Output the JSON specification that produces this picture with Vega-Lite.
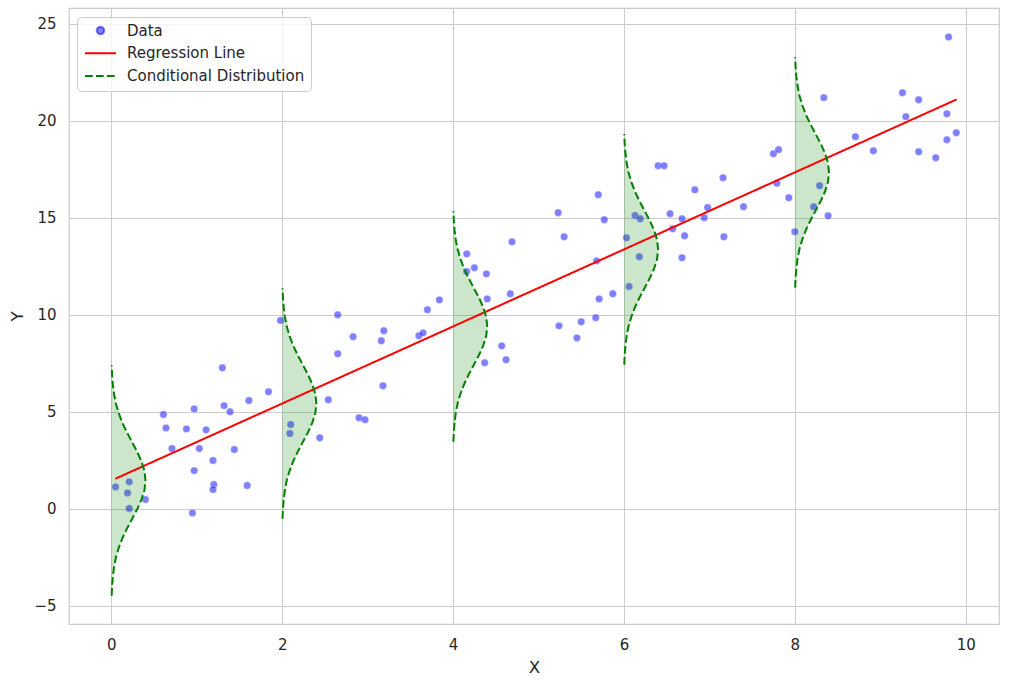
{
  "$schema": "https://vega.github.io/schema/vega-lite/v6.json",
  "width": 930,
  "height": 616,
  "autosize": {"type": "none"},
  "padding": {"left": 69, "top": 8, "right": 10, "bottom": 63},
  "background": "white",
  "config": {
    "view": {"stroke": "#cccccc", "strokeWidth": 1.25},
    "font": "DejaVu Sans",
    "axis": {
      "grid": true, "gridColor": "#cccccc", "gridWidth": 1,
      "domain": false, "ticks": false, "tickSize": 0, "format": "d",
      "labelFont": "DejaVu Sans", "labelFontSize": 15, "labelColor": "#262626",
      "titleFont": "DejaVu Sans", "titleFontSize": 16.7, "titleFontWeight": "normal", "titleColor": "#262626"
    },
    "legend": {"labelFont": "DejaVu Sans", "labelFontSize": 15, "labelColor": "#262626", "labelLimit": 400}
  },
  "datasets": {
    "points": [
      {"x": 0.05, "y": 1.13, "s": "Data"}, {"x": 0.21, "y": 1.39, "s": "Data"}, {"x": 0.19, "y": 0.82, "s": "Data"},
      {"x": 0.21, "y": 0.02, "s": "Data"}, {"x": 0.40, "y": 0.48, "s": "Data"}, {"x": 0.61, "y": 4.86, "s": "Data"},
      {"x": 0.64, "y": 4.17, "s": "Data"}, {"x": 0.71, "y": 3.11, "s": "Data"}, {"x": 0.88, "y": 4.12, "s": "Data"},
      {"x": 0.97, "y": 5.15, "s": "Data"}, {"x": 0.97, "y": 1.97, "s": "Data"}, {"x": 0.95, "y": -0.21, "s": "Data"},
      {"x": 1.03, "y": 3.11, "s": "Data"}, {"x": 1.11, "y": 4.07, "s": "Data"}, {"x": 1.19, "y": 2.49, "s": "Data"},
      {"x": 1.20, "y": 1.25, "s": "Data"}, {"x": 1.19, "y": 0.99, "s": "Data"}, {"x": 1.32, "y": 5.32, "s": "Data"},
      {"x": 1.39, "y": 5.00, "s": "Data"}, {"x": 1.30, "y": 7.27, "s": "Data"}, {"x": 1.44, "y": 3.06, "s": "Data"},
      {"x": 1.61, "y": 5.58, "s": "Data"}, {"x": 1.59, "y": 1.20, "s": "Data"}, {"x": 1.84, "y": 6.03, "s": "Data"},
      {"x": 2.10, "y": 4.35, "s": "Data"}, {"x": 2.09, "y": 3.88, "s": "Data"}, {"x": 1.98, "y": 9.71, "s": "Data"},
      {"x": 2.44, "y": 3.66, "s": "Data"}, {"x": 2.54, "y": 5.62, "s": "Data"}, {"x": 2.65, "y": 10.00, "s": "Data"},
      {"x": 2.65, "y": 7.99, "s": "Data"}, {"x": 2.83, "y": 8.87, "s": "Data"}, {"x": 2.90, "y": 4.69, "s": "Data"},
      {"x": 2.97, "y": 4.59, "s": "Data"}, {"x": 3.16, "y": 8.66, "s": "Data"}, {"x": 3.19, "y": 9.18, "s": "Data"},
      {"x": 3.18, "y": 6.34, "s": "Data"}, {"x": 3.60, "y": 8.92, "s": "Data"}, {"x": 3.65, "y": 9.07, "s": "Data"},
      {"x": 3.70, "y": 10.26, "s": "Data"}, {"x": 3.84, "y": 10.77, "s": "Data"}, {"x": 5.23, "y": 15.26, "s": "Data"},
      {"x": 5.30, "y": 14.02, "s": "Data"}, {"x": 4.69, "y": 13.76, "s": "Data"}, {"x": 4.16, "y": 13.14, "s": "Data"},
      {"x": 4.16, "y": 12.23, "s": "Data"}, {"x": 4.25, "y": 12.42, "s": "Data"}, {"x": 4.39, "y": 12.11, "s": "Data"},
      {"x": 4.40, "y": 10.82, "s": "Data"}, {"x": 4.67, "y": 11.08, "s": "Data"}, {"x": 5.24, "y": 9.43, "s": "Data"},
      {"x": 5.50, "y": 9.64, "s": "Data"}, {"x": 5.45, "y": 8.81, "s": "Data"}, {"x": 4.57, "y": 8.40, "s": "Data"},
      {"x": 4.62, "y": 7.68, "s": "Data"}, {"x": 4.37, "y": 7.53, "s": "Data"}, {"x": 5.67, "y": 9.85, "s": "Data"},
      {"x": 5.71, "y": 10.82, "s": "Data"}, {"x": 5.87, "y": 11.08, "s": "Data"}, {"x": 6.06, "y": 11.46, "s": "Data"},
      {"x": 5.68, "y": 12.78, "s": "Data"}, {"x": 6.18, "y": 12.99, "s": "Data"}, {"x": 6.03, "y": 13.97, "s": "Data"},
      {"x": 5.70, "y": 16.19, "s": "Data"}, {"x": 5.77, "y": 14.90, "s": "Data"}, {"x": 6.13, "y": 15.12, "s": "Data"},
      {"x": 6.19, "y": 14.95, "s": "Data"}, {"x": 6.40, "y": 17.68, "s": "Data"}, {"x": 6.47, "y": 17.68, "s": "Data"},
      {"x": 6.83, "y": 16.44, "s": "Data"}, {"x": 6.54, "y": 15.21, "s": "Data"}, {"x": 6.57, "y": 14.43, "s": "Data"},
      {"x": 6.68, "y": 14.95, "s": "Data"}, {"x": 6.71, "y": 14.07, "s": "Data"}, {"x": 6.68, "y": 12.94, "s": "Data"},
      {"x": 6.98, "y": 15.53, "s": "Data"}, {"x": 6.94, "y": 15.00, "s": "Data"}, {"x": 7.16, "y": 17.06, "s": "Data"},
      {"x": 7.17, "y": 14.02, "s": "Data"}, {"x": 7.40, "y": 15.57, "s": "Data"}, {"x": 7.75, "y": 18.30, "s": "Data"},
      {"x": 7.81, "y": 18.51, "s": "Data"}, {"x": 7.79, "y": 16.78, "s": "Data"}, {"x": 7.93, "y": 16.03, "s": "Data"},
      {"x": 8.00, "y": 14.28, "s": "Data"}, {"x": 8.34, "y": 21.19, "s": "Data"}, {"x": 8.29, "y": 16.65, "s": "Data"},
      {"x": 8.22, "y": 15.57, "s": "Data"}, {"x": 8.39, "y": 15.10, "s": "Data"}, {"x": 8.71, "y": 19.18, "s": "Data"},
      {"x": 8.92, "y": 18.45, "s": "Data"}, {"x": 9.26, "y": 21.44, "s": "Data"}, {"x": 9.45, "y": 21.08, "s": "Data"},
      {"x": 9.30, "y": 20.21, "s": "Data"}, {"x": 9.45, "y": 18.40, "s": "Data"}, {"x": 9.65, "y": 18.09, "s": "Data"},
      {"x": 9.78, "y": 20.36, "s": "Data"}, {"x": 9.78, "y": 19.02, "s": "Data"}, {"x": 9.89, "y": 19.38, "s": "Data"},
      {"x": 9.80, "y": 24.32, "s": "Data"}
    ],
    "reg": [
      {"x": 0.047, "y": 1.55, "s": "Regression Line"},
      {"x": 9.895, "y": 21.10, "s": "Regression Line"}
    ],
    "curves": [
      {"g": 0, "y": -4.48, "x": 0.004, "s": "Conditional Distribution"}, {"g": 0, "y": -3.99, "x": 0.009, "s": "Conditional Distribution"},
      {"g": 0, "y": -3.49, "x": 0.018, "s": "Conditional Distribution"}, {"g": 0, "y": -3.00, "x": 0.032, "s": "Conditional Distribution"},
      {"g": 0, "y": -2.50, "x": 0.054, "s": "Conditional Distribution"}, {"g": 0, "y": -2.01, "x": 0.087, "s": "Conditional Distribution"},
      {"g": 0, "y": -1.51, "x": 0.130, "s": "Conditional Distribution"}, {"g": 0, "y": -1.02, "x": 0.183, "s": "Conditional Distribution"},
      {"g": 0, "y": -0.52, "x": 0.243, "s": "Conditional Distribution"}, {"g": 0, "y": -0.03, "x": 0.302, "s": "Conditional Distribution"},
      {"g": 0, "y": 0.47, "x": 0.353, "s": "Conditional Distribution"}, {"g": 0, "y": 0.96, "x": 0.388, "s": "Conditional Distribution"},
      {"g": 0, "y": 1.46, "x": 0.400, "s": "Conditional Distribution"}, {"g": 0, "y": 1.96, "x": 0.388, "s": "Conditional Distribution"},
      {"g": 0, "y": 2.45, "x": 0.353, "s": "Conditional Distribution"}, {"g": 0, "y": 2.95, "x": 0.302, "s": "Conditional Distribution"},
      {"g": 0, "y": 3.44, "x": 0.243, "s": "Conditional Distribution"}, {"g": 0, "y": 3.94, "x": 0.183, "s": "Conditional Distribution"},
      {"g": 0, "y": 4.43, "x": 0.130, "s": "Conditional Distribution"}, {"g": 0, "y": 4.93, "x": 0.087, "s": "Conditional Distribution"},
      {"g": 0, "y": 5.42, "x": 0.054, "s": "Conditional Distribution"}, {"g": 0, "y": 5.92, "x": 0.032, "s": "Conditional Distribution"},
      {"g": 0, "y": 6.41, "x": 0.018, "s": "Conditional Distribution"}, {"g": 0, "y": 6.91, "x": 0.009, "s": "Conditional Distribution"},
      {"g": 0, "y": 7.40, "x": 0.004, "s": "Conditional Distribution"},

      {"g": 2, "y": -0.51, "x": 2.004, "s": "Conditional Distribution"}, {"g": 2, "y": -0.02, "x": 2.009, "s": "Conditional Distribution"},
      {"g": 2, "y": 0.48, "x": 2.018, "s": "Conditional Distribution"}, {"g": 2, "y": 0.97, "x": 2.032, "s": "Conditional Distribution"},
      {"g": 2, "y": 1.47, "x": 2.054, "s": "Conditional Distribution"}, {"g": 2, "y": 1.96, "x": 2.087, "s": "Conditional Distribution"},
      {"g": 2, "y": 2.46, "x": 2.130, "s": "Conditional Distribution"}, {"g": 2, "y": 2.95, "x": 2.183, "s": "Conditional Distribution"},
      {"g": 2, "y": 3.45, "x": 2.243, "s": "Conditional Distribution"}, {"g": 2, "y": 3.94, "x": 2.302, "s": "Conditional Distribution"},
      {"g": 2, "y": 4.44, "x": 2.353, "s": "Conditional Distribution"}, {"g": 2, "y": 4.93, "x": 2.388, "s": "Conditional Distribution"},
      {"g": 2, "y": 5.43, "x": 2.400, "s": "Conditional Distribution"}, {"g": 2, "y": 5.93, "x": 2.388, "s": "Conditional Distribution"},
      {"g": 2, "y": 6.42, "x": 2.353, "s": "Conditional Distribution"}, {"g": 2, "y": 6.92, "x": 2.302, "s": "Conditional Distribution"},
      {"g": 2, "y": 7.41, "x": 2.243, "s": "Conditional Distribution"}, {"g": 2, "y": 7.91, "x": 2.183, "s": "Conditional Distribution"},
      {"g": 2, "y": 8.40, "x": 2.130, "s": "Conditional Distribution"}, {"g": 2, "y": 8.90, "x": 2.087, "s": "Conditional Distribution"},
      {"g": 2, "y": 9.39, "x": 2.054, "s": "Conditional Distribution"}, {"g": 2, "y": 9.89, "x": 2.032, "s": "Conditional Distribution"},
      {"g": 2, "y": 10.38, "x": 2.018, "s": "Conditional Distribution"}, {"g": 2, "y": 10.88, "x": 2.009, "s": "Conditional Distribution"},
      {"g": 2, "y": 11.37, "x": 2.004, "s": "Conditional Distribution"},

      {"g": 4, "y": 3.46, "x": 4.004, "s": "Conditional Distribution"}, {"g": 4, "y": 3.95, "x": 4.009, "s": "Conditional Distribution"},
      {"g": 4, "y": 4.45, "x": 4.018, "s": "Conditional Distribution"}, {"g": 4, "y": 4.94, "x": 4.032, "s": "Conditional Distribution"},
      {"g": 4, "y": 5.44, "x": 4.054, "s": "Conditional Distribution"}, {"g": 4, "y": 5.93, "x": 4.087, "s": "Conditional Distribution"},
      {"g": 4, "y": 6.43, "x": 4.130, "s": "Conditional Distribution"}, {"g": 4, "y": 6.92, "x": 4.183, "s": "Conditional Distribution"},
      {"g": 4, "y": 7.42, "x": 4.243, "s": "Conditional Distribution"}, {"g": 4, "y": 7.91, "x": 4.302, "s": "Conditional Distribution"},
      {"g": 4, "y": 8.41, "x": 4.353, "s": "Conditional Distribution"}, {"g": 4, "y": 8.90, "x": 4.388, "s": "Conditional Distribution"},
      {"g": 4, "y": 9.40, "x": 4.400, "s": "Conditional Distribution"}, {"g": 4, "y": 9.90, "x": 4.388, "s": "Conditional Distribution"},
      {"g": 4, "y": 10.39, "x": 4.353, "s": "Conditional Distribution"}, {"g": 4, "y": 10.89, "x": 4.302, "s": "Conditional Distribution"},
      {"g": 4, "y": 11.38, "x": 4.243, "s": "Conditional Distribution"}, {"g": 4, "y": 11.88, "x": 4.183, "s": "Conditional Distribution"},
      {"g": 4, "y": 12.37, "x": 4.130, "s": "Conditional Distribution"}, {"g": 4, "y": 12.87, "x": 4.087, "s": "Conditional Distribution"},
      {"g": 4, "y": 13.36, "x": 4.054, "s": "Conditional Distribution"}, {"g": 4, "y": 13.86, "x": 4.032, "s": "Conditional Distribution"},
      {"g": 4, "y": 14.35, "x": 4.018, "s": "Conditional Distribution"}, {"g": 4, "y": 14.85, "x": 4.009, "s": "Conditional Distribution"},
      {"g": 4, "y": 15.34, "x": 4.004, "s": "Conditional Distribution"},

      {"g": 6, "y": 7.43, "x": 6.004, "s": "Conditional Distribution"}, {"g": 6, "y": 7.92, "x": 6.009, "s": "Conditional Distribution"},
      {"g": 6, "y": 8.42, "x": 6.018, "s": "Conditional Distribution"}, {"g": 6, "y": 8.91, "x": 6.032, "s": "Conditional Distribution"},
      {"g": 6, "y": 9.41, "x": 6.054, "s": "Conditional Distribution"}, {"g": 6, "y": 9.90, "x": 6.087, "s": "Conditional Distribution"},
      {"g": 6, "y": 10.40, "x": 6.130, "s": "Conditional Distribution"}, {"g": 6, "y": 10.89, "x": 6.183, "s": "Conditional Distribution"},
      {"g": 6, "y": 11.39, "x": 6.243, "s": "Conditional Distribution"}, {"g": 6, "y": 11.88, "x": 6.302, "s": "Conditional Distribution"},
      {"g": 6, "y": 12.38, "x": 6.353, "s": "Conditional Distribution"}, {"g": 6, "y": 12.87, "x": 6.388, "s": "Conditional Distribution"},
      {"g": 6, "y": 13.37, "x": 6.400, "s": "Conditional Distribution"}, {"g": 6, "y": 13.87, "x": 6.388, "s": "Conditional Distribution"},
      {"g": 6, "y": 14.36, "x": 6.353, "s": "Conditional Distribution"}, {"g": 6, "y": 14.86, "x": 6.302, "s": "Conditional Distribution"},
      {"g": 6, "y": 15.35, "x": 6.243, "s": "Conditional Distribution"}, {"g": 6, "y": 15.85, "x": 6.183, "s": "Conditional Distribution"},
      {"g": 6, "y": 16.34, "x": 6.130, "s": "Conditional Distribution"}, {"g": 6, "y": 16.84, "x": 6.087, "s": "Conditional Distribution"},
      {"g": 6, "y": 17.33, "x": 6.054, "s": "Conditional Distribution"}, {"g": 6, "y": 17.83, "x": 6.032, "s": "Conditional Distribution"},
      {"g": 6, "y": 18.32, "x": 6.018, "s": "Conditional Distribution"}, {"g": 6, "y": 18.82, "x": 6.009, "s": "Conditional Distribution"},
      {"g": 6, "y": 19.31, "x": 6.004, "s": "Conditional Distribution"},

      {"g": 8, "y": 11.40, "x": 8.004, "s": "Conditional Distribution"}, {"g": 8, "y": 11.89, "x": 8.009, "s": "Conditional Distribution"},
      {"g": 8, "y": 12.39, "x": 8.018, "s": "Conditional Distribution"}, {"g": 8, "y": 12.88, "x": 8.032, "s": "Conditional Distribution"},
      {"g": 8, "y": 13.38, "x": 8.054, "s": "Conditional Distribution"}, {"g": 8, "y": 13.87, "x": 8.087, "s": "Conditional Distribution"},
      {"g": 8, "y": 14.37, "x": 8.130, "s": "Conditional Distribution"}, {"g": 8, "y": 14.86, "x": 8.183, "s": "Conditional Distribution"},
      {"g": 8, "y": 15.36, "x": 8.243, "s": "Conditional Distribution"}, {"g": 8, "y": 15.85, "x": 8.302, "s": "Conditional Distribution"},
      {"g": 8, "y": 16.35, "x": 8.353, "s": "Conditional Distribution"}, {"g": 8, "y": 16.84, "x": 8.388, "s": "Conditional Distribution"},
      {"g": 8, "y": 17.34, "x": 8.400, "s": "Conditional Distribution"}, {"g": 8, "y": 17.84, "x": 8.388, "s": "Conditional Distribution"},
      {"g": 8, "y": 18.33, "x": 8.353, "s": "Conditional Distribution"}, {"g": 8, "y": 18.83, "x": 8.302, "s": "Conditional Distribution"},
      {"g": 8, "y": 19.32, "x": 8.243, "s": "Conditional Distribution"}, {"g": 8, "y": 19.82, "x": 8.183, "s": "Conditional Distribution"},
      {"g": 8, "y": 20.31, "x": 8.130, "s": "Conditional Distribution"}, {"g": 8, "y": 20.81, "x": 8.087, "s": "Conditional Distribution"},
      {"g": 8, "y": 21.30, "x": 8.054, "s": "Conditional Distribution"}, {"g": 8, "y": 21.80, "x": 8.032, "s": "Conditional Distribution"},
      {"g": 8, "y": 22.29, "x": 8.018, "s": "Conditional Distribution"}, {"g": 8, "y": 22.79, "x": 8.009, "s": "Conditional Distribution"},
      {"g": 8, "y": 23.28, "x": 8.004, "s": "Conditional Distribution"}
    ]
  },
  "layer": [
    {
      "data": {"name": "points"},
      "mark": {"type": "point", "filled": true, "size": 55, "opacity": 1, "stroke": "white", "strokeOpacity": 0.5, "strokeWidth": 0.7},
      "encoding": {
        "x": {"field": "x", "type": "quantitative", "title": "X",
              "scale": {"domain": [-0.495, 10.39], "nice": false, "zero": false},
              "axis": {"values": [0, 2, 4, 6, 8, 10], "labelPadding": 13, "titleY": 43.5, "titleBaseline": "middle"}},
        "y": {"field": "y", "type": "quantitative", "title": "Y",
              "scale": {"domain": [-5.935, 25.81], "nice": false, "zero": false},
              "axis": {"values": [-5, 0, 5, 10, 15, 20, 25], "labelPadding": 13, "titleX": -52, "titleY": 308, "titleBaseline": "middle", "titleAlign": "center", "titleAngle": -90}},
        "color": {"field": "s", "type": "nominal",
          "scale": {"domain": ["Data", "Regression Line", "Conditional Distribution"], "range": ["rgba(0,0,255,0.5)", "#ff0000", "#008000"]},
          "legend": {
            "title": null, "orient": "none", "legendX": 8, "legendY": 9,
            "symbolSize": 55, "symbolStrokeWidth": 2, "symbolOpacity": 1, "symbolOffset": 10, "labelOffset": 19, "rowPadding": 6.8,
            "padding": 6, "strokeColor": "#cccccc", "fillColor": "rgba(255,255,255,0.8)", "cornerRadius": 4,
            "labelFontSize": 15, "labelColor": "#262626", "labelLimit": 400
          }
        },
        "shape": {"field": "s", "type": "nominal",
          "scale": {"domain": ["Data", "Regression Line", "Conditional Distribution"], "range": ["circle", "M-4.18,0H4.18", "M-4.18,0H4.18"]},
          "legend": {"title": null}
        }
      }
    },
    {
      "data": {"name": "curves"},
      "mark": {"type": "area", "orient": "horizontal", "color": "#008000", "opacity": 0.2},
      "encoding": {
        "y": {"field": "y", "type": "quantitative", "title": "Y"},
        "x": {"field": "g", "type": "quantitative", "title": "X", "stack": null},
        "x2": {"field": "x"},
        "detail": {"field": "g", "type": "nominal"}
      }
    },
    {
      "data": {"name": "reg"},
      "mark": {"type": "line", "strokeWidth": 2},
      "encoding": {
        "x": {"field": "x", "type": "quantitative", "title": "X"},
        "y": {"field": "y", "type": "quantitative", "title": "Y"},
        "color": {"field": "s", "type": "nominal"},
        "strokeDash": {"field": "s", "type": "nominal",
          "scale": {"domain": ["Data", "Regression Line", "Conditional Distribution"], "range": [[1, 0], [1, 0], [7.7, 3.3]]},
          "legend": {"title": null}
        }
      }
    },
    {
      "data": {"name": "curves"},
      "mark": {"type": "line", "strokeWidth": 2},
      "encoding": {
        "x": {"field": "x", "type": "quantitative", "title": "X"},
        "y": {"field": "y", "type": "quantitative", "title": "Y"},
        "detail": {"field": "g", "type": "nominal"},
        "order": {"field": "y", "type": "quantitative"},
        "color": {"field": "s", "type": "nominal"},
        "strokeDash": {"field": "s", "type": "nominal"}
      }
    }
  ]
}
